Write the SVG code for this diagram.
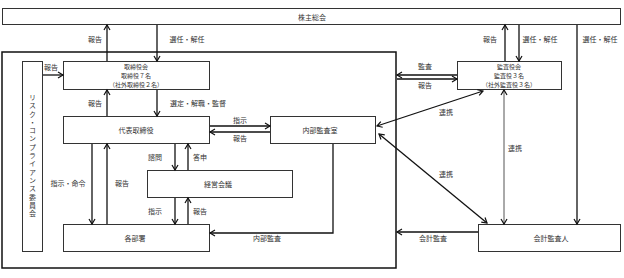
<svg xmlns="http://www.w3.org/2000/svg" width="624" height="278" viewBox="0 0 624 278">
<style>
.box{fill:#fff;stroke:#333;stroke-width:1}
.c{fill:none;stroke:#111;stroke-width:1.3}
.g{fill:none;stroke:#555;stroke-width:1}
text{font-family:"Noto Sans CJK JP","Noto Sans CJK SC",sans-serif;font-size:7px;fill:#333;text-anchor:middle;dominant-baseline:central}
.m{font-size:6px}
</style>
<defs>
<marker id="a" markerUnits="userSpaceOnUse" markerWidth="8" markerHeight="8" refX="6" refY="4" orient="auto-start-reverse">
<path d="M1,1 L6,4 L1,7" fill="none" stroke="#111" stroke-width="1.2"/>
</marker>
</defs>
<rect x="0" y="0" width="624" height="278" fill="#fff"/>
<g id="shareholders"><rect class="box" x="2.5" y="8.5" width="618" height="16"/><text x="312" y="16.5">株主総会</text></g>
<g id="company"><rect x="2" y="52" width="394" height="216" fill="none" stroke="#111" stroke-width="1.5"/></g>
<g id="risk"><rect class="box" x="22.5" y="61.5" width="20" height="190"/><text x="32.5" y="156" style="writing-mode:vertical-rl;letter-spacing:1.3px">リスク・コンプライアンス委員会</text></g>
<g id="board"><rect class="box" x="63.5" y="61.5" width="146" height="28"/><text class="m" x="136" y="66.7">取締役会</text><text class="m" x="136" y="75.5">取締役７名</text><text class="m" x="136" y="84.3">（社外取締役２名）</text></g>
<g id="rep"><rect class="box" x="63.5" y="116.5" width="146" height="27"/><text x="136" y="130">代表取締役</text></g>
<g id="internal-audit"><rect class="box" x="270.5" y="116.5" width="105" height="27"/><text x="320" y="130">内部監査室</text></g>
<g id="mgmt"><rect class="box" x="147.5" y="170.5" width="145" height="27"/><text x="218" y="184">経営会議</text></g>
<g id="depts"><rect class="box" x="63.5" y="224.5" width="146" height="27"/><text x="135" y="238">各部署</text></g>
<g id="audit-board"><rect class="box" x="457.5" y="61.5" width="104" height="28"/><text class="m" x="509" y="66.7">監査役会</text><text class="m" x="509" y="75.5">監査役３名</text><text class="m" x="509" y="84.3">（社外監査役３名）</text></g>
<g id="accounting-auditor"><rect class="box" x="478.5" y="224.5" width="142" height="27"/><text x="551" y="238">会計監査人</text></g>
<g id="connectors">
<line class="c" x1="107" y1="61" x2="107" y2="25" marker-end="url(#a)"/>
<line class="c" x1="157" y1="25" x2="157" y2="61" marker-end="url(#a)"/>
<line class="c" x1="43" y1="75" x2="63" y2="75" marker-end="url(#a)"/>
<line class="c" x1="107" y1="116" x2="107" y2="90" marker-end="url(#a)"/>
<line class="c" x1="157" y1="90" x2="157" y2="116" marker-end="url(#a)"/>
<line class="c" x1="210" y1="126" x2="270" y2="126" marker-end="url(#a)"/>
<line class="c" x1="270" y1="132" x2="210" y2="132" marker-end="url(#a)"/>
<line class="c" x1="175" y1="144" x2="175" y2="170" marker-end="url(#a)"/>
<line class="c" x1="188" y1="170" x2="188" y2="144" marker-end="url(#a)"/>
<line class="c" x1="92" y1="144" x2="92" y2="224" marker-end="url(#a)"/>
<line class="c" x1="107" y1="224" x2="107" y2="144" marker-end="url(#a)"/>
<line class="c" x1="175" y1="198" x2="175" y2="224" marker-end="url(#a)"/>
<line class="c" x1="188" y1="224" x2="188" y2="198" marker-end="url(#a)"/>
<polyline class="c" points="333,144 333,233 210,233" marker-end="url(#a)"/>
<line class="c" x1="457" y1="75" x2="397" y2="75" marker-end="url(#a)"/>
<line class="c" x1="397" y1="79" x2="457" y2="79" marker-end="url(#a)"/>
<line class="c" x1="505" y1="61" x2="505" y2="25" marker-end="url(#a)"/>
<line class="c" x1="519" y1="25" x2="519" y2="61" marker-end="url(#a)"/>
<line class="c" x1="577" y1="25" x2="577" y2="224" marker-end="url(#a)"/>
<line class="g" x1="504" y1="90" x2="504" y2="224" marker-start="url(#a)" marker-end="url(#a)"/>
<line class="c" x1="483" y1="91" x2="377" y2="126" marker-start="url(#a)" marker-end="url(#a)"/>
<line class="c" x1="379" y1="134" x2="487" y2="223" marker-start="url(#a)" marker-end="url(#a)"/>
<line class="c" x1="478" y1="232" x2="397" y2="232" marker-end="url(#a)"/>
</g>
<g id="labels">
<text x="95" y="39">報告</text>
<text x="187" y="39">選任・解任</text>
<text x="51" y="67">報告</text>
<text x="95" y="103">報告</text>
<text x="198" y="103">選定・解職・監督</text>
<text x="240" y="120">指示</text>
<text x="240" y="138">報告</text>
<text x="155" y="157">諮問</text>
<text x="200" y="157">答申</text>
<text x="68" y="183">指示・命令</text>
<text x="122" y="183">報告</text>
<text x="155" y="211">指示</text>
<text x="200" y="211">報告</text>
<text x="267" y="238">内部監査</text>
<text x="425" y="66">監査</text>
<text x="425" y="85">報告</text>
<text x="490" y="39">報告</text>
<text x="540" y="39">選任・解任</text>
<text x="600" y="39">選任・解任</text>
<text x="446" y="112">連携</text>
<text x="515" y="148">連携</text>
<text x="446" y="174">連携</text>
<text x="433" y="238">会計監査</text>
</g>
</svg>
